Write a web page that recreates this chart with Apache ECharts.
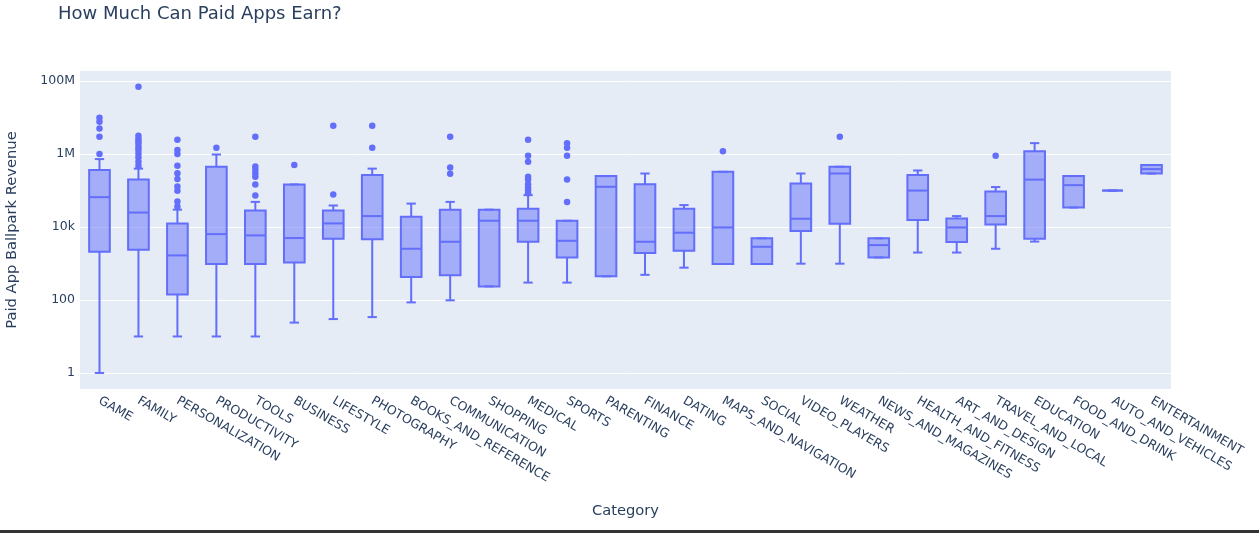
<!DOCTYPE html>
<html>
<head>
<meta charset="utf-8">
<script src="https://cdn.jsdelivr.net/npm/echarts@6/dist/echarts.min.js"></script>
<style>
  html, body { margin: 0; padding: 0; background: #fff; }
  #chart { width: 1259px; height: 533px; }
</style>
</head>
<body>
<div id="chart"></div>
<script>
const categories = [
  "GAME", "FAMILY", "PERSONALIZATION", "PRODUCTIVITY", "TOOLS", "BUSINESS",
  "LIFESTYLE", "PHOTOGRAPHY", "BOOKS_AND_REFERENCE", "COMMUNICATION", "SHOPPING",
  "MEDICAL", "SPORTS", "PARENTING", "FINANCE", "DATING", "MAPS_AND_NAVIGATION",
  "SOCIAL", "VIDEO_PLAYERS", "WEATHER", "NEWS_AND_MAGAZINES", "HEALTH_AND_FITNESS",
  "ART_AND_DESIGN", "TRAVEL_AND_LOCAL", "EDUCATION", "FOOD_AND_DRINK",
  "AUTO_AND_VEHICLES", "ENTERTAINMENT"
];

// box statistics per category (revenue in dollars)
const lowerFence = [1, 10, 10, 10, 10, 24, 30, 34, 86, 98, 236, 300, 300, 445, 490, 770, 970, 970, 990, 990, 1470, 2000, 2000, 2540, 4000, 34400, 100000, 294000];
const q1 = [2100, 2400, 142, 970, 970, 1070, 4800, 4600, 430, 480, 236, 3950, 1470, 445, 1940, 2240, 970, 970, 7800, 12300, 1470, 15600, 3900, 11800, 4800, 34400, 100000, 294000];
const medians = [66000, 25000, 1670, 6400, 5900, 5000, 12600, 20000, 2540, 3950, 14900, 14900, 4200, 127000, 3950, 7000, 9750, 2880, 16900, 294000, 3200, 100000, 9750, 20000, 200000, 141000, 100000, 388000];
const q3 = [365000, 200000, 12600, 450000, 28500, 147000, 28500, 266000, 19100, 30000, 30000, 32000, 14900, 250000, 150000, 32000, 327000, 4900, 157000, 450000, 4900, 266000, 17200, 94000, 1200000, 250000, 100000, 500000];
const upperFence = [730000, 400000, 30000, 975000, 49000, 147000, 39000, 400000, 44000, 49000, 30000, 75000, 14900, 250000, 294000, 40000, 327000, 4900, 294000, 450000, 4900, 356000, 20000, 125000, 2000000, 250000, 100000, 500000];

const outliers = [
  [10000000, 7700000, 5000000, 3000000, 1000000],
  [70000000, 3200000, 2600000, 2200000, 1900000, 1550000, 1300000, 1020000, 810000, 620000, 480000],
  [2470000, 1300000, 1000000, 480000, 300000, 207000, 130000, 99000, 50000, 36600],
  [1500000],
  [3000000, 460000, 370000, 300000, 240000, 147000, 73000],
  [500000],
  [6000000, 78000],
  [6000000, 1500000],
  [],
  [3000000, 430000, 290000],
  [],
  [2470000, 900000, 620000, 240000, 200000, 150000, 120000, 100000, 85000],
  [2000000, 1500000, 900000, 200000, 49000],
  [], [], [],
  [1200000],
  [], [],
  [3000000],
  [], [], [],
  [900000],
  [], [], [], []
];

const yTicks = [1, 100, 10000, 1000000, 100000000];
const yTickLabels = ["1", "100", "10k", "1M", "100M"];

const LINE = "#636efa";
const FILL = "rgba(99,110,250,0.5)";
const TEXT = "#2a3f5f";
const FONT = "DejaVu Sans";

const boxData = categories.map((c, i) => [i, lowerFence[i], q1[i], medians[i], q3[i], upperFence[i]]);
const outlierData = [];
outliers.forEach((list, i) => list.forEach(v => outlierData.push([i, v])));

function renderBox(params, api) {
  const x = api.value(0);
  const lo = api.coord([x, api.value(1)]);
  const b1 = api.coord([x, api.value(2)]);
  const md = api.coord([x, api.value(3)]);
  const b3 = api.coord([x, api.value(4)]);
  const hi = api.coord([x, api.value(5)]);
  const band = api.size([1, 1])[0];
  const bw = band * 0.53;
  const cw = bw * 0.45;
  const cx = lo[0];
  const style = { stroke: LINE, lineWidth: 2, fill: null };
  return {
    type: "group",
    children: [
      { type: "line", shape: { x1: cx, y1: b3[1], x2: cx, y2: hi[1] }, style },
      { type: "line", shape: { x1: cx, y1: b1[1], x2: cx, y2: lo[1] }, style },
      { type: "line", shape: { x1: cx - cw / 2, y1: hi[1], x2: cx + cw / 2, y2: hi[1] }, style },
      { type: "line", shape: { x1: cx - cw / 2, y1: lo[1], x2: cx + cw / 2, y2: lo[1] }, style },
      {
        type: "rect",
        shape: { x: cx - bw / 2, y: b3[1], width: bw, height: b1[1] - b3[1] },
        style: { fill: FILL, stroke: LINE, lineWidth: 2 }
      },
      { type: "line", shape: { x1: cx - bw / 2, y1: md[1], x2: cx + bw / 2, y2: md[1] }, style }
    ]
  };
}

const chart = echarts.init(document.getElementById("chart"));
chart.setOption({
  backgroundColor: "#fff",
  animation: false,
  title: {
    text: "How Much Can Paid Apps Earn?",
    left: 53,
    top: 0,
    textStyle: { fontFamily: FONT, fontSize: 18, fontWeight: "normal", color: TEXT }
  },
  grid: {
    left: 80, right: 88, top: 71, bottom: 144,
    outerBoundsMode: "none",
    containLabel: false,
    show: true, backgroundColor: "#e5ecf6", borderWidth: 0
  },
  xAxis: {
    type: "category",
    data: categories,
    name: "Category",
    nameLocation: "middle",
    nameGap: 115,
    nameTextStyle: { fontFamily: FONT, fontSize: 14.7, color: TEXT },
    axisLine: { show: false },
    axisTick: { show: false },
    splitLine: { show: false },
    axisLabel: {
      interval: 0, rotate: -30, margin: 11,
      fontFamily: FONT, fontSize: 12.5, color: TEXT
    }
  },
  yAxis: {
    type: "log",
    logBase: 10,
    min: 0.363,
    max: 190000000,
    name: "Paid App Ballpark Revenue",
    nameLocation: "middle",
    nameGap: 60,
    nameTextStyle: { fontFamily: FONT, fontSize: 14.7, color: TEXT },
    axisLine: { show: false },
    axisTick: { show: false, customValues: yTicks },
    splitLine: { show: true, lineStyle: { color: "#fff", width: 1 } },
    axisLabel: {
      customValues: yTicks,
      margin: 5,
      fontFamily: FONT, fontSize: 12.5, color: TEXT,
      formatter: v => yTickLabels[yTicks.indexOf(v)] ?? ""
    }
  },
  series: [
    {
      type: "custom",
      renderItem: renderBox,
      data: boxData,
      encode: { x: 0, y: [1, 2, 3, 4, 5] },
      z: 2
    },
    {
      type: "scatter",
      data: outlierData,
      symbolSize: 6.5,
      itemStyle: { color: LINE, opacity: 1 },
      z: 3
    }
  ],
  graphic: [
    { type: "rect", shape: { x: 0, y: 530, width: 1259, height: 3 }, style: { fill: "#333" } }
  ]
});
</script>
</body>
</html>
